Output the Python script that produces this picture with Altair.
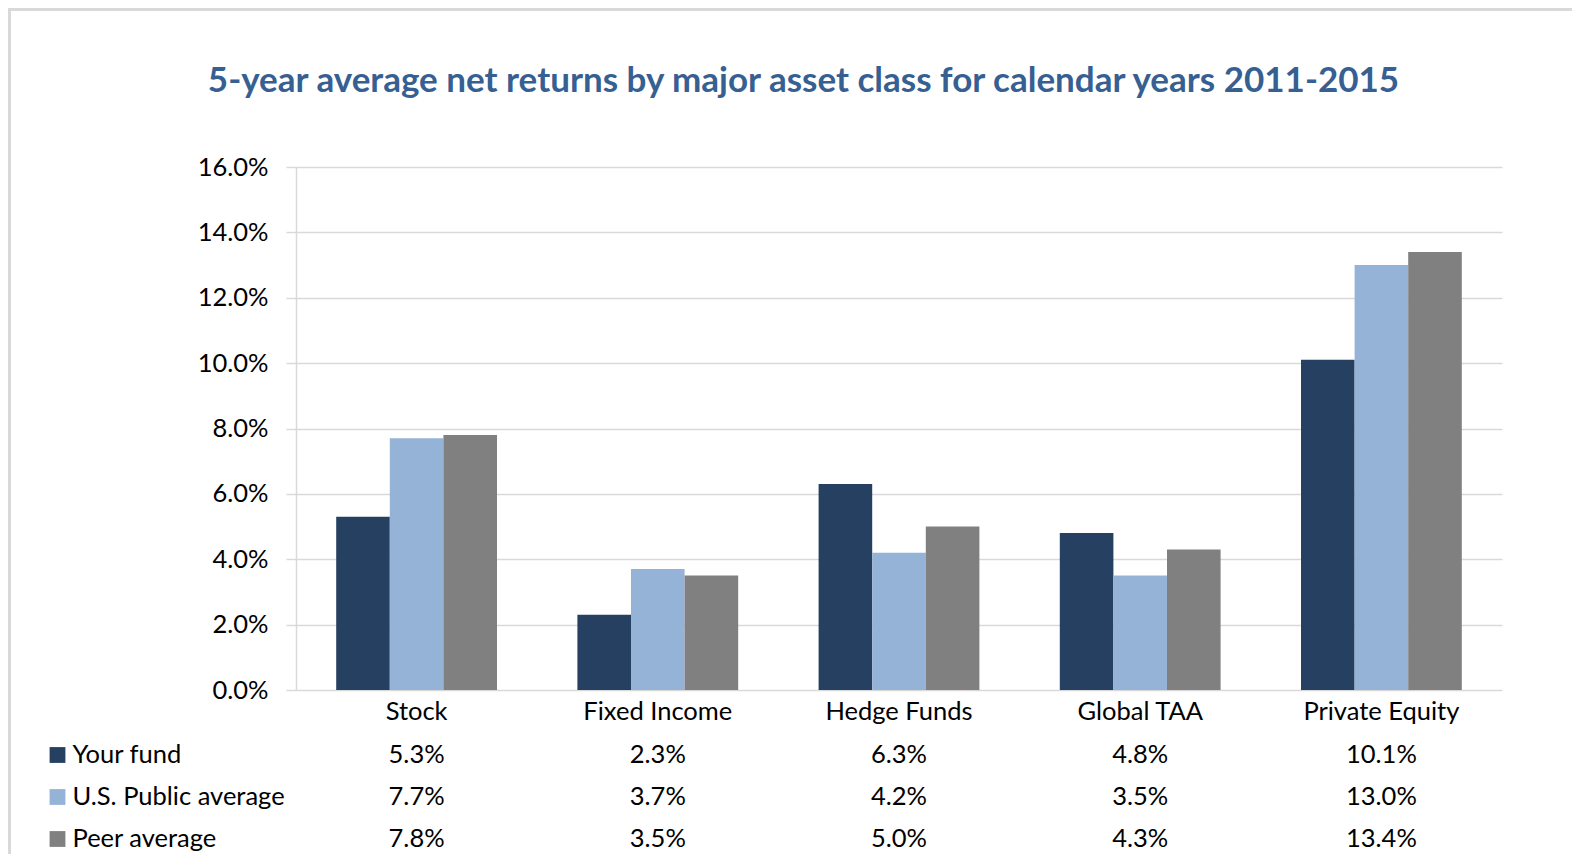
import altair as alt
import pandas as pd

title_text = "5-year average net returns by major asset class for calendar years 2011-2015"
categories = ["Stock", "Fixed Income", "Hedge Funds", "Global TAA", "Private Equity"]
series = ["Your fund", "U.S. Public average", "Peer average"]
your_fund = [5.3, 2.3, 6.3, 4.8, 10.1]
us_public = [7.7, 3.7, 4.2, 3.5, 13.0]
peer_avg = [7.8, 3.5, 5.0, 4.3, 13.4]
colors = ["#264062", "#95B3D7", "#808080"]
y_ticks = [0, 2, 4, 6, 8, 10, 12, 14, 16]

rows = []
for s, vals in zip(series, [your_fund, us_public, peer_avg]):
    for c, v in zip(categories, vals):
        rows.append({"category": c, "series": s, "value": v / 100, "label": f"{v:.1f}%"})
df = pd.DataFrame(rows)

W, H = 1206, 523
FONT = "Lato"
FS = 25.5
ROW0, ROWSTEP = 588, 42

x_scale = alt.Scale(domain=categories, paddingInner=1 / 3, paddingOuter=1 / 6)
x_enc = alt.X("category:N", sort=categories, scale=x_scale, axis=None)
color_enc = alt.Color("series:N", scale=alt.Scale(domain=series, range=colors), legend=None)

base = alt.Chart(df)

bars = base.mark_bar().encode(
    x=alt.X("category:N", sort=categories, scale=x_scale,
            axis=alt.Axis(title=None, labels=False, ticks=False, domain=True,
                          domainColor="#a6a6a6", domainWidth=2, grid=False)),
    xOffset=alt.XOffset("series:N", sort=series, scale=alt.Scale(domain=series, paddingInner=0, paddingOuter=0)),
    y=alt.Y("value:Q", scale=alt.Scale(domain=[0, 0.16], nice=False),
            axis=alt.Axis(values=[t / 100 for t in y_ticks], format=".1%", title=None,
                          labelFont=FONT, labelFontSize=FS, labelColor="#000000",
                          tickSize=10, tickColor="#d9d9d9", tickWidth=1.5,
                          domainColor="#d9d9d9", domainWidth=1.5,
                          grid=True, gridColor="#d9d9d9", gridWidth=1.5,
                          labelPadding=18)),
    color=color_enc,
)

cat_labels = base.transform_filter(alt.datum.series == series[0]).mark_text(
    font=FONT, fontSize=FS, color="#000000", baseline="middle", align="center"
).encode(x=x_enc, y=alt.value(H + 21.5), text="category:N")

layers = [bars, cat_labels]
for i, s in enumerate(series):
    yv = ROW0 + ROWSTEP * i
    layers.append(
        base.transform_filter(alt.datum.series == s).mark_text(
            font=FONT, fontSize=FS, color="#000000", baseline="middle", align="center"
        ).encode(x=x_enc, y=alt.value(yv), text="label:N")
    )
    layers.append(
        base.transform_filter((alt.datum.series == s) & (alt.datum.category == categories[0]))
        .mark_square(size=250, opacity=1, filled=True)
        .encode(x=alt.value(-238.5), y=alt.value(yv), color=color_enc)
    )
    layers.append(
        base.transform_filter((alt.datum.series == s) & (alt.datum.category == categories[0]))
        .mark_text(font=FONT, fontSize=FS, color="#000000", baseline="middle", align="left")
        .encode(x=alt.value(-223.5), y=alt.value(yv), text="series:N")
    )

title_df = pd.DataFrame({"t": [title_text]})
title = alt.Chart(title_df).mark_text(
    font=FONT, fontSize=35, fontWeight="bold", color="#376092", baseline="middle", align="center"
).encode(x=alt.value(507.5), y=alt.value(-86), text="t:N")

frame = alt.Chart(title_df).mark_rect(filled=False, stroke="#d9d9d9", strokeWidth=3).encode(
    x=alt.value(-286.5), x2=alt.value(W + 400), y=alt.value(-157.5), y2=alt.value(H + 400)
)

chart = alt.layer(frame, title, *layers).properties(
    width=W, height=H,
    autosize=alt.AutoSizeParams(type="none"),
    padding={"left": 288, "top": 159, "right": 70, "bottom": 164},
    background="white",
).configure_view(stroke=None)

chart.save("out.html", embed_options={"renderer": "svg", "actions": False})
